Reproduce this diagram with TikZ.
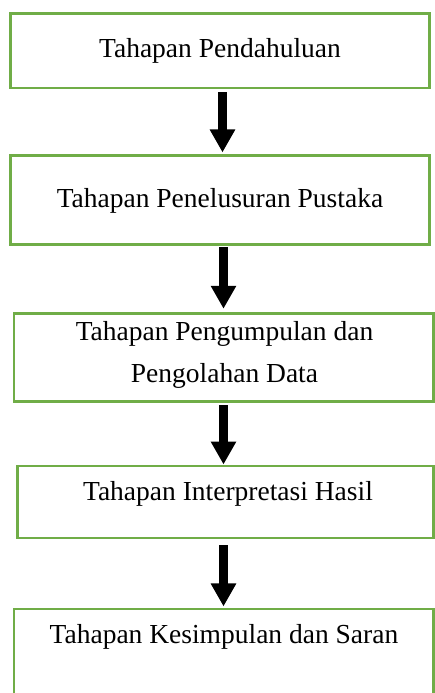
\documentclass[tikz,border=0pt]{standalone}
\usepackage{fontspec}
\setmainfont{Liberation Serif}
\usetikzlibrary{arrows.meta}
\definecolor{boxgreen}{HTML}{70AD47}
\tikzset{
  stagebox/.style={draw=boxgreen, line width=2.5pt, rectangle, inner sep=0pt},
  stagetext/.style={anchor=base, inner sep=0pt, align=center,
    font=\fontsize{27.5}{42.7}\selectfont},
  flowarrow/.style={draw=black, line width=9.5pt,
    -{Triangle[width=24pt,length=23pt]}}
}
\begin{document}
\begin{tikzpicture}[x=1pt,y=-1pt]
\useasboundingbox (0,0) rectangle (435,693);
\node[stagebox, minimum width=419pt, minimum height=74.3pt] (b1) at (219.8,50.85) {};
\node[stagebox, minimum width=419pt, minimum height=88.6pt] (b2) at (219.8,200) {};
\node[stagebox, minimum width=419.3pt, minimum height=87.6pt] (b3) at (223.7,357.5) {};
\node[stagebox, minimum width=415.6pt, minimum height=72.3pt] (b4) at (225.5,501.9) {};
\node[stagebox, minimum width=419.3pt, minimum height=100pt] (b5) at (223.7,659) {};
\node[stagetext] (t1) at (220,58) {Tahapan Pendahuluan};
\node[stagetext] (t2) at (220,207) {Tahapan Penelusuran Pustaka};
\node[stagetext] (t3) at (224.5,382.7) {Tahapan Pengumpulan dan\\Pengolahan Data};
\node[stagetext] (t4) at (228,500) {Tahapan Interpretasi Hasil};
\node[stagetext] (t5) at (224,643) {Tahapan Kesimpulan dan Saran};
\draw[flowarrow, shorten <=3pt, shorten >=2pt] ([xshift=2.7pt]b1.south) -- ([xshift=2.7pt]b1.south |- b2.north);
\draw[flowarrow, shorten <=1.7pt, shorten >=3.7pt] ([xshift=3.7pt]b2.south) -- ([xshift=3.7pt]b2.south |- b3.north);
\draw[flowarrow, shorten <=2.7pt] ([xshift=-0.2pt]b3.south) -- ([xshift=-0.2pt]b3.south |- b4.north);
\draw[flowarrow, shorten <=6pt, shorten >=1.3pt] ([xshift=-2pt]b4.south) -- ([xshift=-2pt]b4.south |- b5.north);
\end{tikzpicture}
\end{document}
